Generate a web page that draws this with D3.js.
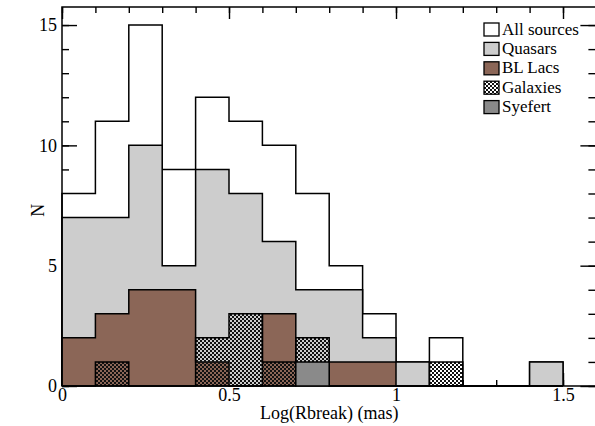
<!DOCTYPE html>
<html><head><meta charset="utf-8">
<script src="https://cdn.jsdelivr.net/npm/d3@7"></script>
<style>html,body{margin:0;padding:0;background:#fff;} svg{display:block}</style>
</head><body><svg id="c" width="595" height="426"></svg>
<script>
// ---- data ----
const binEdges   = [0,0.1,0.2,0.3,0.4,0.5,0.6,0.7,0.8,0.9,1.0,1.1,1.2,1.3,1.4,1.5];
const allSources = [8,11,15,9,12,11,10,8,5,3,1,2,0,0,1];
const quasars    = [7,7,10,5,9,8,6,4,4,2,1,0,0,0,1];
const blLacs     = [2,3,4,4,1,0,3,0,1,1,0,0,0,0,0];
const galaxies   = [0,1,0,0,2,3,1,2,0,0,0,1,0,0,0];
const seyfert    = [0,0,0,0,0,0,0,1,0,0,0,0,0,0,0];
const seriesNames = ["All sources","Quasars","BL Lacs","Galaxies","Syefert"];
const xMajorTicks = [0,0.5,1,1.5];
const xTickLabels = ["0","0.5","1","1.5"];
const yMajorTicks = [0,5,10,15];
const yTickLabels = ["0","5","10","15"];
const xDomain = [0,1.6];
const yDomain = [0,15.75];

// ---- layout ----
const L = 62, R = 596.4, T = 7, B = 386;
const svg = d3.select("#c");
const x = d3.scaleLinear().domain(xDomain).range([L,R]);
const y = d3.scaleLinear().domain(yDomain).range([B,T]);
const font = "'Liberation Serif','Times New Roman',serif";

const defs = svg.append("defs");
const pat = defs.append("pattern").attr("id","hatch").attr("patternUnits","userSpaceOnUse")
  .attr("width",4).attr("height",4);
pat.append("rect").attr("x",0).attr("y",0).attr("width",2).attr("height",2).attr("fill","#111");
pat.append("rect").attr("x",2).attr("y",2).attr("width",2).attr("height",2).attr("fill","#111");

const styles = [
  {fill:"#ffffff"},
  {fill:"#cdcdcd"},
  {fill:"#8b6657"},
  {fill:"url(#hatch)"},
  {fill:"#8a8a8a"}
];
const seriesData = [allSources, quasars, blLacs, galaxies, seyfert];

// ---- ticks (under the data) ----
const xMinor = d3.range(0, 16.5).map(i => i/10);
const yMinor = d3.range(0, 16);
function styleAxis(g){ g.select(".domain").remove(); g.selectAll("line").attr("stroke","#000").attr("stroke-width",1.4);
  g.selectAll("text").attr("font-family",font).attr("font-size",18).attr("fill","#000"); }
svg.append("g").attr("transform",`translate(0,${B})`)
  .call(d3.axisBottom(x).tickValues(xMinor).tickSize(-6).tickFormat("")).call(styleAxis);
svg.append("g").attr("transform",`translate(0,${B})`)
  .call(d3.axisBottom(x).tickValues(xMajorTicks).tickSize(-13).tickPadding(2)
    .tickFormat((d,i)=>xTickLabels[i])).call(styleAxis);
svg.append("g").attr("transform",`translate(0,${T})`)
  .call(d3.axisTop(x).tickValues(xMinor).tickSize(-6).tickFormat("")).call(styleAxis);
svg.append("g").attr("transform",`translate(0,${T})`)
  .call(d3.axisTop(x).tickValues(xMajorTicks).tickSize(-12).tickFormat("")).call(styleAxis);
svg.append("g").attr("transform",`translate(${L},0)`)
  .call(d3.axisLeft(y).tickValues(yMinor).tickSize(-7).tickFormat("")).call(styleAxis);
svg.append("g").attr("transform",`translate(${L},0)`)
  .call(d3.axisLeft(y).tickValues(yMajorTicks).tickSize(-15).tickPadding(5)
    .tickFormat((d,i)=>yTickLabels[i])).call(styleAxis);
svg.append("g").attr("transform",`translate(${R},0)`)
  .call(d3.axisRight(y).tickValues(yMinor).tickSize(-8).tickFormat("")).call(styleAxis);
svg.append("g").attr("transform",`translate(${R},0)`)
  .call(d3.axisRight(y).tickValues(yMajorTicks).tickSize(-16).tickFormat("")).call(styleAxis);

// ---- histograms ----
function stepPoints(vals){
  const pts = [[binEdges[0],0]];
  vals.forEach((v,i)=>pts.push([binEdges[i],v]));
  pts.push([binEdges[binEdges.length-1],0]);
  return pts;
}
const area = d3.area().curve(d3.curveStepAfter).x(d=>x(d[0])).y0(y(0)).y1(d=>y(d[1]));
const line = d3.line().curve(d3.curveStepAfter).x(d=>x(d[0])).y(d=>y(d[1]));
seriesData.forEach((vals,k)=>{
  const pts = stepPoints(vals);
  const g = svg.append("g");
  g.append("path").attr("d",area(pts)).attr("fill",styles[k].fill).attr("stroke","none");
  g.append("path").attr("d",line(pts)).attr("fill","none").attr("stroke","#000")
    .attr("stroke-width",1.5).attr("stroke-linejoin","miter");
});

// ---- frame ----
svg.append("path").attr("d",`M${L},${T}H${R}V${B}H${L}Z`).attr("fill","none")
  .attr("stroke","#000").attr("stroke-width",1.5);

// ---- axis titles ----
svg.append("text").attr("x",(L+R)/2).attr("y",419).attr("text-anchor","middle")
  .attr("font-family",font).attr("font-size",18).text("Log(Rbreak) (mas)");
svg.append("text").attr("transform",`translate(44,${y(7.3)}) rotate(-90)`).attr("text-anchor","middle")
  .attr("font-family",font).attr("font-size",18).text("N");

// ---- legend ----
const lg = svg.append("g").attr("transform","translate(484,23)");
seriesNames.forEach((name,i)=>{
  const gy = i*19.4;
  if (i===3) lg.append("rect").attr("x",0).attr("y",gy).attr("width",15).attr("height",13).attr("fill","#fff");
  lg.append("rect").attr("x",0).attr("y",gy).attr("width",15).attr("height",13)
    .attr("fill",styles[i].fill).attr("stroke","#000").attr("stroke-width",1.3);
  lg.append("text").attr("x",18).attr("y",gy+11.5).attr("font-family",font).attr("font-size",17)
    .text(name);
});
</script></body></html>
